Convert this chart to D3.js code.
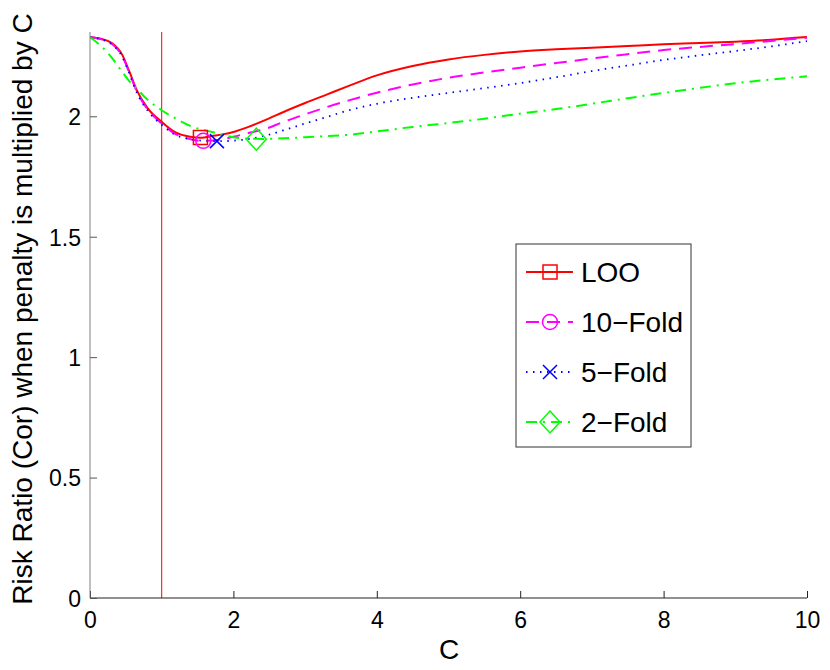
<!DOCTYPE html>
<html><head><meta charset="utf-8">
<script src="https://cdn.jsdelivr.net/npm/d3@7/dist/d3.min.js"></script>
<style>body{margin:0;background:#fff}svg{display:block}text{font-family:"Liberation Sans",Arial,sans-serif}</style>
</head><body><svg id="c" width="830" height="670"></svg>
<script>
const xs = [0,0.15,0.3,0.45,0.55,0.65,0.8,1.0,1.2,1.4,1.55,1.7,1.85,2.0,2.2,2.45,2.7,3.0,3.3,3.6,4.0,4.5,5.0,5.5,6.0,6.5,7.0,7.5,8.0,8.5,9.0,9.5,10];
const loo   = [2.328,2.322,2.305,2.255,2.185,2.11,2.035,1.977,1.932,1.915,1.911,1.918,1.925,1.935,1.955,1.985,2.018,2.055,2.09,2.125,2.17,2.209,2.236,2.255,2.269,2.278,2.285,2.292,2.299,2.304,2.310,2.318,2.329];
const fold10= [2.328,2.321,2.302,2.25,2.18,2.105,2.03,1.97,1.925,1.905,1.898,1.899,1.905,1.915,1.93,1.948,1.977,2.008,2.038,2.065,2.098,2.132,2.16,2.182,2.202,2.221,2.24,2.258,2.275,2.288,2.30,2.313,2.326];
const fold5 = [2.328,2.32,2.30,2.247,2.177,2.10,2.025,1.965,1.922,1.905,1.899,1.897,1.897,1.899,1.905,1.92,1.942,1.97,1.997,2.024,2.052,2.077,2.097,2.117,2.138,2.162,2.188,2.211,2.234,2.253,2.271,2.29,2.312];
const fold2 = [2.328,2.293,2.245,2.184,2.145,2.115,2.07,2.025,1.99,1.96,1.945,1.935,1.922,1.913,1.907,1.906,1.909,1.913,1.918,1.923,1.937,1.956,1.972,1.99,2.011,2.03,2.052,2.075,2.097,2.118,2.137,2.153,2.166];
const names = ["LOO","10\u2212Fold","5\u2212Fold","2\u2212Fold"];
const minX = [1.54,1.58,1.77,2.32];
const minY = [1.912,1.898,1.897,1.905];
const xTicks = [0,2,4,6,8,10];
const yTicks = [0,0.5,1,1.5,2];
const vlineX = 1;

const series = [loo,fold10,fold5,fold2];
const colors = ["#ff0000","#ff00ff","#0000ff","#00ff00"];
const dashes = [null,"13,8","1.5,5.5","11,6,2,6"];
const widths = [2,2,1.8,2];
const markers = ["square","circle","x","diamond"];

const svg = d3.select("#c");
const x = d3.scaleLinear().domain([0,10]).range([90,807]);
const y = d3.scaleLinear().domain([0,2.35]).range([598,32]);

svg.append("line").attr("x1",x(vlineX)).attr("x2",x(vlineX)).attr("y1",y(2.35)).attr("y2",y(0))
  .attr("stroke","#ff0000").attr("stroke-width",1);

const line = d3.line().x((d,i)=>x(xs[i])).y(d=>y(d)).curve(d3.curveMonotoneX);
series.forEach((s,k)=>{
  svg.append("path").attr("d",line(s)).attr("fill","none").attr("stroke",colors[k])
    .attr("stroke-width",widths[k]).attr("stroke-dasharray",dashes[k]);
});

function marker(g,type,cx,cy,col){
  if(type==="square") g.append("rect").attr("x",cx-7).attr("y",cy-7).attr("width",14).attr("height",14);
  else if(type==="circle") g.append("circle").attr("cx",cx).attr("cy",cy).attr("r",7.5);
  else if(type==="x") g.append("path").attr("d",`M${cx-7},${cy-7}L${cx+7},${cy+7}M${cx-7},${cy+7}L${cx+7},${cy-7}`);
  else g.append("path").attr("d",`M${cx},${cy-11}L${cx+10},${cy}L${cx},${cy+11}L${cx-10},${cy}Z`);
  g.selectAll("*").attr("fill","none").attr("stroke",col).attr("stroke-width",1.5);
}
minX.forEach((mx,k)=>marker(svg.append("g"),markers[k],x(mx),y(minY[k]),colors[k]));

const gx = svg.append("g").attr("transform","translate(0,598)")
  .call(d3.axisBottom(x).tickValues(xTicks).tickSize(-7).tickPadding(14).tickFormat(d3.format("d")));
const gy = svg.append("g").attr("transform","translate(90,0)")
  .call(d3.axisLeft(y).tickValues(yTicks).tickSize(-7).tickPadding(9).tickFormat(d=>String(d)));
[gx,gy].forEach(g=>{g.selectAll("text").attr("font-size",23).attr("fill","#000").attr("font-family",'"Liberation Sans",Arial,sans-serif');});
gx.select(".domain").attr("d","M90,0H807").attr("stroke","#222");
gx.selectAll(".tick line").attr("stroke","#222");
gy.select(".domain").attr("d","M0,598V32").attr("stroke","#808080");
gy.selectAll(".tick line").attr("stroke","#555");
gy.selectAll("text").attr("dy","0.36em");

svg.append("text").attr("x",449).attr("y",659).attr("text-anchor","middle").attr("font-size",28).text("C");
svg.append("text").attr("transform","translate(32,309) rotate(-90)").attr("text-anchor","middle").attr("font-size",28)
  .text("Risk Ratio (Cor) when penalty is multiplied by C");

const lg = svg.append("g");
lg.append("rect").attr("x",516).attr("y",244).attr("width",175).attr("height",203).attr("fill","#fff").attr("stroke","#333").attr("stroke-width",1);
names.forEach((n,k)=>{
  const cy = 272 + k*50;
  lg.append("line").attr("x1",526).attr("x2",573).attr("y1",cy).attr("y2",cy).attr("stroke",colors[k])
    .attr("stroke-width",widths[k]).attr("stroke-dasharray",dashes[k]);
  marker(lg.append("g"),markers[k],550,cy,colors[k]);
  lg.append("text").attr("x",581).attr("y",cy+10).attr("font-size",28).text(n);
});
</script></body></html>
